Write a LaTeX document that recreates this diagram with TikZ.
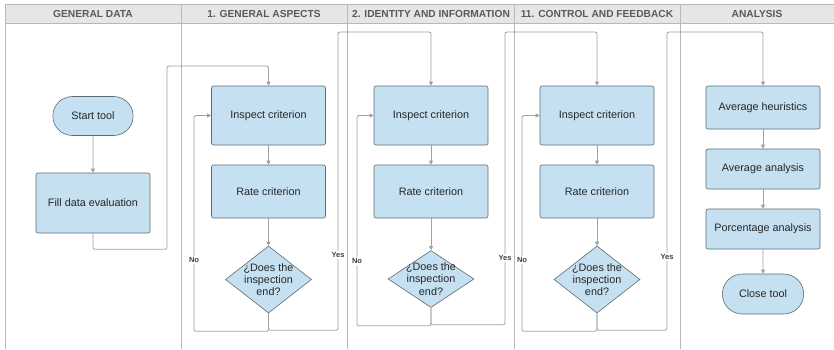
\documentclass[tikz,border=0pt]{standalone}
\usepackage{fontspec}
\setmainfont{Liberation Sans}
\usetikzlibrary{shapes,arrows.meta,positioning,calc}

\definecolor{boxblue}{HTML}{C5E0F1}
\definecolor{boxline}{HTML}{5F6A72}
\definecolor{flowgray}{HTML}{A0A0A0}
\definecolor{lanegray}{HTML}{B8B8B8}
\definecolor{headfill}{HTML}{E6E6E6}
\definecolor{headtext}{HTML}{5A5A5A}

\tikzset{
  procbox/.style={draw=boxline, fill=boxblue, rounded corners=2pt, line width=0.6pt,
    minimum width=114pt, text=black!85, font=\fontsize{10.8}{12}\selectfont},
  termbox/.style={draw=boxline, fill=boxblue, rounded rectangle, line width=0.6pt,
    minimum width=87pt, minimum height=39pt, text=black!85, font=\fontsize{10.8}{12}\selectfont},
  decbox/.style={draw=boxline, fill=boxblue, diamond, line width=0.6pt, inner sep=0pt,
    minimum width=86pt, minimum height=67pt},
  dectext/.style={align=center, text=black!85, font=\fontsize{10.8}{12.3}\selectfont},
  flow/.style={draw=flowgray, line width=0.8pt, rounded corners=2pt, -{Triangle[length=4pt,width=4pt]}},
  lane/.style={draw=lanegray, line width=0.7pt},
  lanehead/.style={font=\bfseries\fontsize{10.2}{12}\selectfont, text=headtext},
  answer/.style={fill=white, inner sep=1pt, font=\bfseries\fontsize{7.5}{9}\selectfont, text=black!75}
}

\begin{document}
\begin{tikzpicture}[x=1pt, y=-1pt]
    \useasboundingbox (0,0) rectangle (834,349);

    % Swimlanes
    \fill[headfill] (5,4) rectangle (834,23);
    \draw[lane] (5,349) -- (5,4) -- (834,4);
    \draw[lane] (5,23) -- (834,23);
    \foreach \x in {181,347.5,514,680.5}
        \draw[lane] (\x,4) -- (\x,349);
    \foreach \x/\name/\lbl in {93/gd/GENERAL DATA, 264/ga/1. GENERAL ASPECTS,
        431/ii/2. IDENTITY AND INFORMATION, 597/cf/11. CONTROL AND FEEDBACK, 757/an/ANALYSIS}
        \node[lanehead] (head-\name) at (\x,13.5) {\lbl};

    % General data
    \node[termbox] (start) at (93,116) {Start tool};
    \node[procbox, minimum height=60pt] (fill) at (93,203) {Fill data evaluation};

    % Criteria lanes
    \node[procbox, minimum height=59pt] (insp1) at (268.5,115.5) {Inspect criterion};
    \node[procbox, minimum height=53pt] (rate1) at (268.5,191.5) {Rate criterion};
    \node[decbox, label={[dectext]center:¿Does the\\inspection\\end?}] (dec1) at (268.5,279.5) {};

    \node[procbox, minimum height=59pt] (insp2) at (431,115.5) {Inspect criterion};
    \node[procbox, minimum height=53pt] (rate2) at (431,191.5) {Rate criterion};
    \node[decbox, minimum height=57pt, label={[dectext]center:¿Does the\\inspection\\end?}] (dec2) at (431,279) {};

    \node[procbox, minimum height=59pt] (insp3) at (597,115.5) {Inspect criterion};
    \node[procbox, minimum height=53pt] (rate3) at (597,191.5) {Rate criterion};
    \node[decbox, label={[dectext]center:¿Does the\\inspection\\end?}] (dec3) at (597,279.5) {};

    % Analysis
    \node[procbox, minimum height=43pt] (avgh) at (763,107.5) {Average heuristics};
    \node[procbox, minimum height=40pt] (avga) at (763,169) {Average analysis};
    \node[procbox, minimum height=40pt] (pct) at (763,229) {Porcentage analysis};
    \node[termbox, minimum width=88pt, minimum height=40pt] (close) at (763,294) {Close tool};

    % Bends of the connectors
    \coordinate (gdbus) at (167,66);
    \coordinate (bus1) at (338,32);
    \coordinate (bus2) at (505,32);
    \coordinate (bus3) at (667,32);
    \coordinate (no1) at (194,260);
    \coordinate (no2) at (357,261);
    \coordinate (no3) at (522,260);

    % Flow
    \draw[flow] (start) -- (fill);
    \draw[flow] (fill.south) -- ++(0,16) -| (gdbus) -| (insp1.north);
    \foreach \i/\j in {1/2,2/3} {
        \draw[flow] (insp\i) -- (rate\i);
        \draw[flow] (rate\i) -- (dec\i);
        \draw[flow] (dec\i.south) -- ++(0,17) -| (bus\i) -| (insp\j.north);
    }
    \draw[flow] (insp3) -- (rate3);
    \draw[flow] (rate3) -- (dec3);
    \draw[flow] (dec3.south) -- ++(0,17) -| (bus3) -| (avgh.north);
    \foreach \i in {1,2,3}
        \draw[flow] (dec\i.south) -- ++(0,18) -| (no\i) |- (insp\i.west);
    \draw[flow] (avgh) -- (avga);
    \draw[flow] (avga) -- (pct);
    \draw[flow] (pct) -- (close);

    % Answers
    \node[answer] (yes1) at (338,255) {Yes};
    \node[answer] (yes2) at (505,258) {Yes};
    \node[answer] (yes3) at (667,257) {Yes};
    \node[answer] (nolbl1) at (no1) {No};
    \node[answer] (nolbl2) at (no2) {No};
    \node[answer] (nolbl3) at (no3) {No};

\end{tikzpicture}
\end{document}
